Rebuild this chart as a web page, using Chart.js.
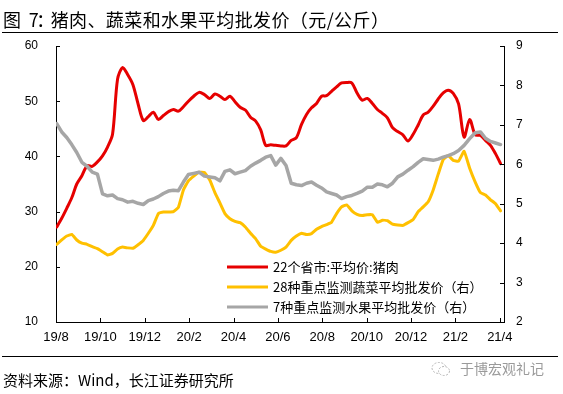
<!DOCTYPE html>
<html>
<head>
<meta charset="utf-8">
<script src="https://cdn.jsdelivr.net/npm/chart.js@4.4.1/dist/chart.umd.min.js"></script>
<style>
  body { margin: 0; background: #fff; }
  #wrap { position: relative; width: 563px; height: 394px; overflow: hidden; }
  #myChart { position: absolute; left: 0; top: 0; }
  .title { position: absolute; left: 3px; top: 8px; font: 18px "Noto Sans CJK SC", sans-serif; letter-spacing: 0.4px; color: #000; line-height: 22px; white-space: nowrap; }
  .title .num { margin-left: 3px; }
  .title .colon { margin: 0 -4px 0 -3px; }
  .rule { position: absolute; left: 2px; width: 556px; height: 0; border-top: 1.5px solid #000; }
  .source { position: absolute; left: 3px; top: 370px; font: 15px "Noto Sans CJK SC", sans-serif; color: #000; line-height: 20px; white-space: nowrap; }
  .mark { position: absolute; left: 431px; top: 359px; font: 14px "Noto Sans CJK SC", sans-serif; color: #9a9a9a; line-height: 18px; white-space: nowrap; }
  .mark svg { vertical-align: -3px; margin-right: 9px; }
</style>
</head>
<body>
<div id="wrap">
  <canvas id="myChart" width="563" height="394"></canvas>
  <div class="title">图&nbsp;<span class="num">7</span><span class="colon">：</span>猪肉、蔬菜和水果平均批发价（元/公斤）</div>
  <div class="rule" style="top:32px"></div>
  <div class="rule" style="top:356px"></div>
  <div class="source">资料来源：Wind，长江证券研究所</div>
  <div class="mark"><svg width="20" height="16" viewBox="0 0 20 16"><ellipse cx="8" cy="7" rx="7" ry="5.5" fill="none" stroke="#b5b5b5" stroke-dasharray="2 1.5"/><ellipse cx="13" cy="10" rx="5.5" ry="4.5" fill="#fff" stroke="#b5b5b5" stroke-dasharray="2 1.5"/></svg>于博宏观礼记</div>
</div>
<script>
// weekly observations, first week 2019-08-02
const startDate = new Date(2019, 7, 2);

const porkPrice = [
  27.2, 28.8, 30.6, 32.5, 35.0, 36.5, 38.3, 38.2, 39.0, 40.1,
  41.7, 44.0, 54.0, 56.1, 54.8, 53.0, 49.5, 46.5, 47.2, 48.0,
  46.7, 47.4, 48.1, 48.5, 48.2, 49.0, 50.0, 50.9, 51.6, 51.2,
  50.5, 51.3, 50.9, 50.3, 50.9, 49.9, 48.9, 48.4, 47.1, 46.4,
  44.8, 42.0, 42.1, 42.0, 41.9, 41.9, 42.9, 43.4, 45.8, 47.6,
  48.8, 49.6, 50.9, 51.0, 51.8, 52.6, 53.3, 53.4, 53.3, 51.5,
  50.2, 50.5, 49.6, 48.5, 47.8, 47.0, 45.2, 44.5, 43.9, 42.8,
  44.0, 45.7, 47.5, 48.0, 49.1, 50.4, 51.5, 52.0, 51.4, 49.5,
  43.5, 46.7, 43.9, 43.8, 42.9, 42.0, 40.5, 38.7
];

const vegPrice = [
  3.97, 4.08, 4.18, 4.22, 4.08, 4.00, 3.97, 3.91, 3.86, 3.78,
  3.70, 3.74, 3.85, 3.90, 3.88, 3.87, 3.96, 4.07, 4.25, 4.45,
  4.75, 4.79, 4.79, 4.80, 4.91, 5.35, 5.58, 5.70, 5.80, 5.79,
  5.60, 5.28, 5.02, 4.75, 4.62, 4.55, 4.52, 4.41, 4.25, 4.11,
  3.92, 3.85, 3.79, 3.77, 3.82, 3.90, 4.07, 4.18, 4.25, 4.22,
  4.24, 4.35, 4.42, 4.47, 4.53, 4.75, 4.92, 4.97, 4.82, 4.73,
  4.70, 4.72, 4.72, 4.53, 4.58, 4.57, 4.48, 4.46, 4.45, 4.52,
  4.60, 4.80, 4.92, 5.05, 5.35, 5.75, 6.12, 6.22, 6.10, 6.08,
  6.33, 5.90, 5.55, 5.28, 5.22, 5.10, 5.00, 4.82
];

const fruitPrice = [
  7.03, 6.82, 6.68, 6.50, 6.30, 6.05, 5.95, 5.80, 5.75, 5.25,
  5.20, 5.22, 5.13, 5.10, 5.04, 5.06, 5.01, 4.98, 5.08, 5.12,
  5.18, 5.26, 5.32, 5.34, 5.33, 5.55, 5.74, 5.77, 5.80, 5.70,
  5.68, 5.66, 5.58, 5.82, 5.86, 5.76, 5.80, 5.84, 5.95, 6.03,
  6.10, 6.18, 6.22, 5.98, 6.15, 5.97, 5.52, 5.48, 5.46, 5.52,
  5.55, 5.47, 5.40, 5.30, 5.26, 5.22, 5.13, 5.18, 5.21, 5.26,
  5.32, 5.42, 5.42, 5.50, 5.48, 5.43, 5.52, 5.68, 5.75, 5.85,
  5.94, 6.05, 6.14, 6.12, 6.10, 6.13, 6.18, 6.22, 6.27, 6.35,
  6.48, 6.65, 6.80, 6.82, 6.66, 6.58, 6.54, 6.50
];

const seriesNames = ['22个省市:平均价:猪肉', '28种重点监测蔬菜平均批发价（右）', '7种重点监测水果平均批发价（右）'];
const seriesColors = ['#e60000', '#ffc000', '#a6a6a6'];
const xTickLabels = ['19/8', '19/10', '19/12', '20/2', '20/4', '20/6', '20/8', '20/10', '20/12', '21/2', '21/4'];

// months elapsed since 2019-08-01, fractional
function monthPos(d) {
  const dim = new Date(d.getFullYear(), d.getMonth() + 1, 0).getDate();
  return (d.getFullYear() - 2019) * 12 + d.getMonth() - 7 + (d.getDate() - 1) / dim;
}
function toPoints(arr) {
  return arr.map((v, i) => {
    const d = new Date(startDate.getTime());
    d.setDate(d.getDate() + i * 7);
    return { x: monthPos(d), y: v };
  });
}

const font = { family: 'Liberation Sans, Arial, sans-serif', size: 12 };

// ticks pointing into the plot + custom legend inside
const innerTicks = {
  id: 'innerTicks',
  afterDraw(chart) {
    const c = chart.ctx;
    const a = chart.chartArea;
    c.save();
    c.strokeStyle = '#000';
    c.lineWidth = 1;
    c.beginPath();
    chart.scales.x.ticks.forEach(t => {
      const px = Math.round(chart.scales.x.getPixelForValue(t.value)) + 0.5;
      c.moveTo(px, a.bottom); c.lineTo(px, a.bottom - 4);
    });
    chart.scales.y.ticks.forEach(t => {
      const py = Math.round(chart.scales.y.getPixelForValue(t.value)) + 0.5;
      c.moveTo(a.left, py); c.lineTo(a.left + 4, py);
    });
    chart.scales.y1.ticks.forEach(t => {
      const py = Math.round(chart.scales.y1.getPixelForValue(t.value)) + 0.5;
      c.moveTo(a.right, py); c.lineTo(a.right - 4, py);
    });
    c.stroke();

    c.font = '13px "Noto Sans CJK SC", sans-serif';
    c.textBaseline = 'middle';
    c.fillStyle = '#000';
    seriesNames.forEach((name, i) => {
      const y = 267 + i * 20;
      c.strokeStyle = seriesColors[i];
      c.lineWidth = 3;
      c.beginPath(); c.moveTo(227, y); c.lineTo(268, y); c.stroke();
      c.fillText(name, 273, y);
    });
    c.restore();
  }
};

new Chart(document.getElementById('myChart'), {
  type: 'line',
  data: {
    datasets: [
      { label: seriesNames[0], data: toPoints(porkPrice), borderColor: seriesColors[0], yAxisID: 'y', order: 3, tension: 0.3 },
      { label: seriesNames[1], data: toPoints(vegPrice), borderColor: seriesColors[1], yAxisID: 'y1', order: 2, tension: 0.1 },
      { label: seriesNames[2], data: toPoints(fruitPrice), borderColor: seriesColors[2], yAxisID: 'y1', order: 1, tension: 0, borderWidth: 3.5 }
    ]
  },
  options: {
    responsive: false,
    animation: false,
    layout: { padding: { top: 46 } },
    elements: {
      point: { radius: 0 },
      line: { borderWidth: 3, borderCapStyle: 'round', borderJoinStyle: 'round' }
    },
    plugins: { legend: { display: false }, tooltip: { enabled: false } },
    scales: {
      x: {
        type: 'linear',
        min: 0,
        max: 20.19,
        afterBuildTicks: s => { s.ticks = xTickLabels.map((l, i) => ({ value: i * 2 })); },
        afterFit: s => { s.height = 72; },
        ticks: { font: { ...font, size: 13 }, color: '#000', padding: 8, maxRotation: 0, autoSkip: false,
          callback: (v, i) => xTickLabels[i] },
        grid: { display: false, drawTicks: false },
        border: { display: true, color: '#000', width: 1 }
      },
      y: {
        position: 'left',
        min: 10, max: 60,
        afterFit: s => { s.width = 56; },
        ticks: { stepSize: 10, font: font, color: '#000', padding: 18 },
        grid: { display: false, drawTicks: false },
        border: { display: true, color: '#000', width: 1 }
      },
      y1: {
        position: 'right',
        min: 2, max: 9,
        afterFit: s => { s.width = 59; },
        ticks: { stepSize: 1, font: font, color: '#000', padding: 12 },
        grid: { display: false, drawTicks: false },
        border: { display: true, color: '#000', width: 1 }
      }
    }
  },
  plugins: [innerTicks]
});
</script>
</body>
</html>
